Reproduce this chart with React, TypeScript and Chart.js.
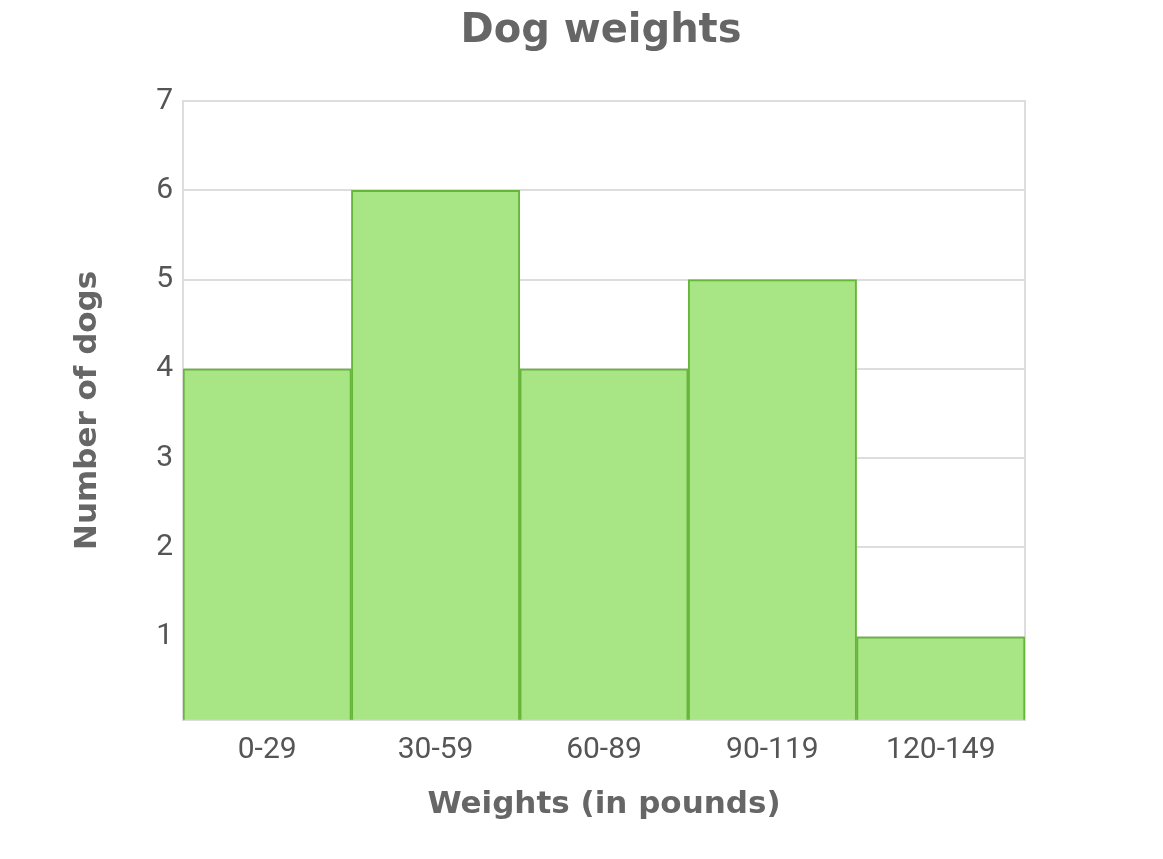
import React, { useEffect, useRef } from "react";
import { Chart, registerables } from "chart.js";

Chart.register(...registerables);

const categories = ["0-29", "30-59", "60-89", "90-119", "120-149"];
const dogCounts = [4, 6, 4, 5, 1];
const yMin = 0.07;
const yMax = 7;
const chartTitle = "Dog weights";
const xTitle = "Weights (in pounds)";
const yTitle = "Number of dogs";

export default function App() {
  const ref = useRef<HTMLCanvasElement | null>(null);
  useEffect(() => {
    document.body.style.margin = "0";
    const ctx = ref.current!;
    const chart = new Chart(ctx, {
      type: "bar",
      data: {
        labels: categories,
        datasets: [
          {
            data: dogCounts,
            backgroundColor: "#a8e584",
            borderColor: "#66b63a",
            borderWidth: 2,
            barPercentage: 1,
            categoryPercentage: 1,
          },
        ],
      },
      options: {
        animation: false,
        responsive: false,
        maintainAspectRatio: false,
        layout: { padding: { left: 69, right: 30, top: 8, bottom: 35 } },
        plugins: {
          legend: { display: false },
          tooltip: { enabled: false },
          title: {
            display: true,
            text: chartTitle,
            color: "#666666",
            font: { family: "DejaVu Sans", size: 40, weight: "bold" },
            padding: { top: 0, bottom: 45 },
          },
        },
        scales: {
          x: {
            grid: { display: false, drawTicks: false },
            border: { color: "#dddddd", width: 2 },
            ticks: {
              color: "#555555",
              font: { family: "Roboto", size: 30 },
              padding: 13,
            },
            title: {
              display: true,
              text: xTitle,
              color: "#666666",
              font: { family: "DejaVu Sans", size: 31, weight: "bold" },
              padding: { top: 5, bottom: 0 },
            },
          },
          y: {
            min: yMin,
            max: yMax,
            afterFit: (s: any) => {
              s.width = 114;
            },
            afterBuildTicks: (s: any) => {
              s.ticks = s.ticks.filter((t: any) => Number.isInteger(t.value) && t.value > 0);
            },
            grid: { color: "#dddddd", lineWidth: 2, drawTicks: false },
            border: { color: "#dddddd", width: 2 },
            ticks: {
              stepSize: 1,
              color: "#555555",
              font: { family: "Roboto", size: 30 },
              padding: 10,
            },
            title: {
              display: true,
              text: yTitle,
              color: "#666666",
              font: { family: "DejaVu Sans", size: 31, weight: "bold" },
              padding: { top: 0, bottom: 0 },
            },
          },
          y2: {
            position: "right",
            min: yMin,
            max: yMax,
            afterFit: (s: any) => {
              s.width = 108;
            },
            grid: { display: false, drawTicks: false },
            border: { color: "#dddddd", width: 2 },
            ticks: { display: false },
          },
        },
      },
    });
    return () => chart.destroy();
  }, []);
  return (
    <div style={{ width: 1163, height: 859, background: "#fff" }}>
      <canvas ref={ref} width={1163} height={859} style={{ display: "block" }} />
    </div>
  );
}
